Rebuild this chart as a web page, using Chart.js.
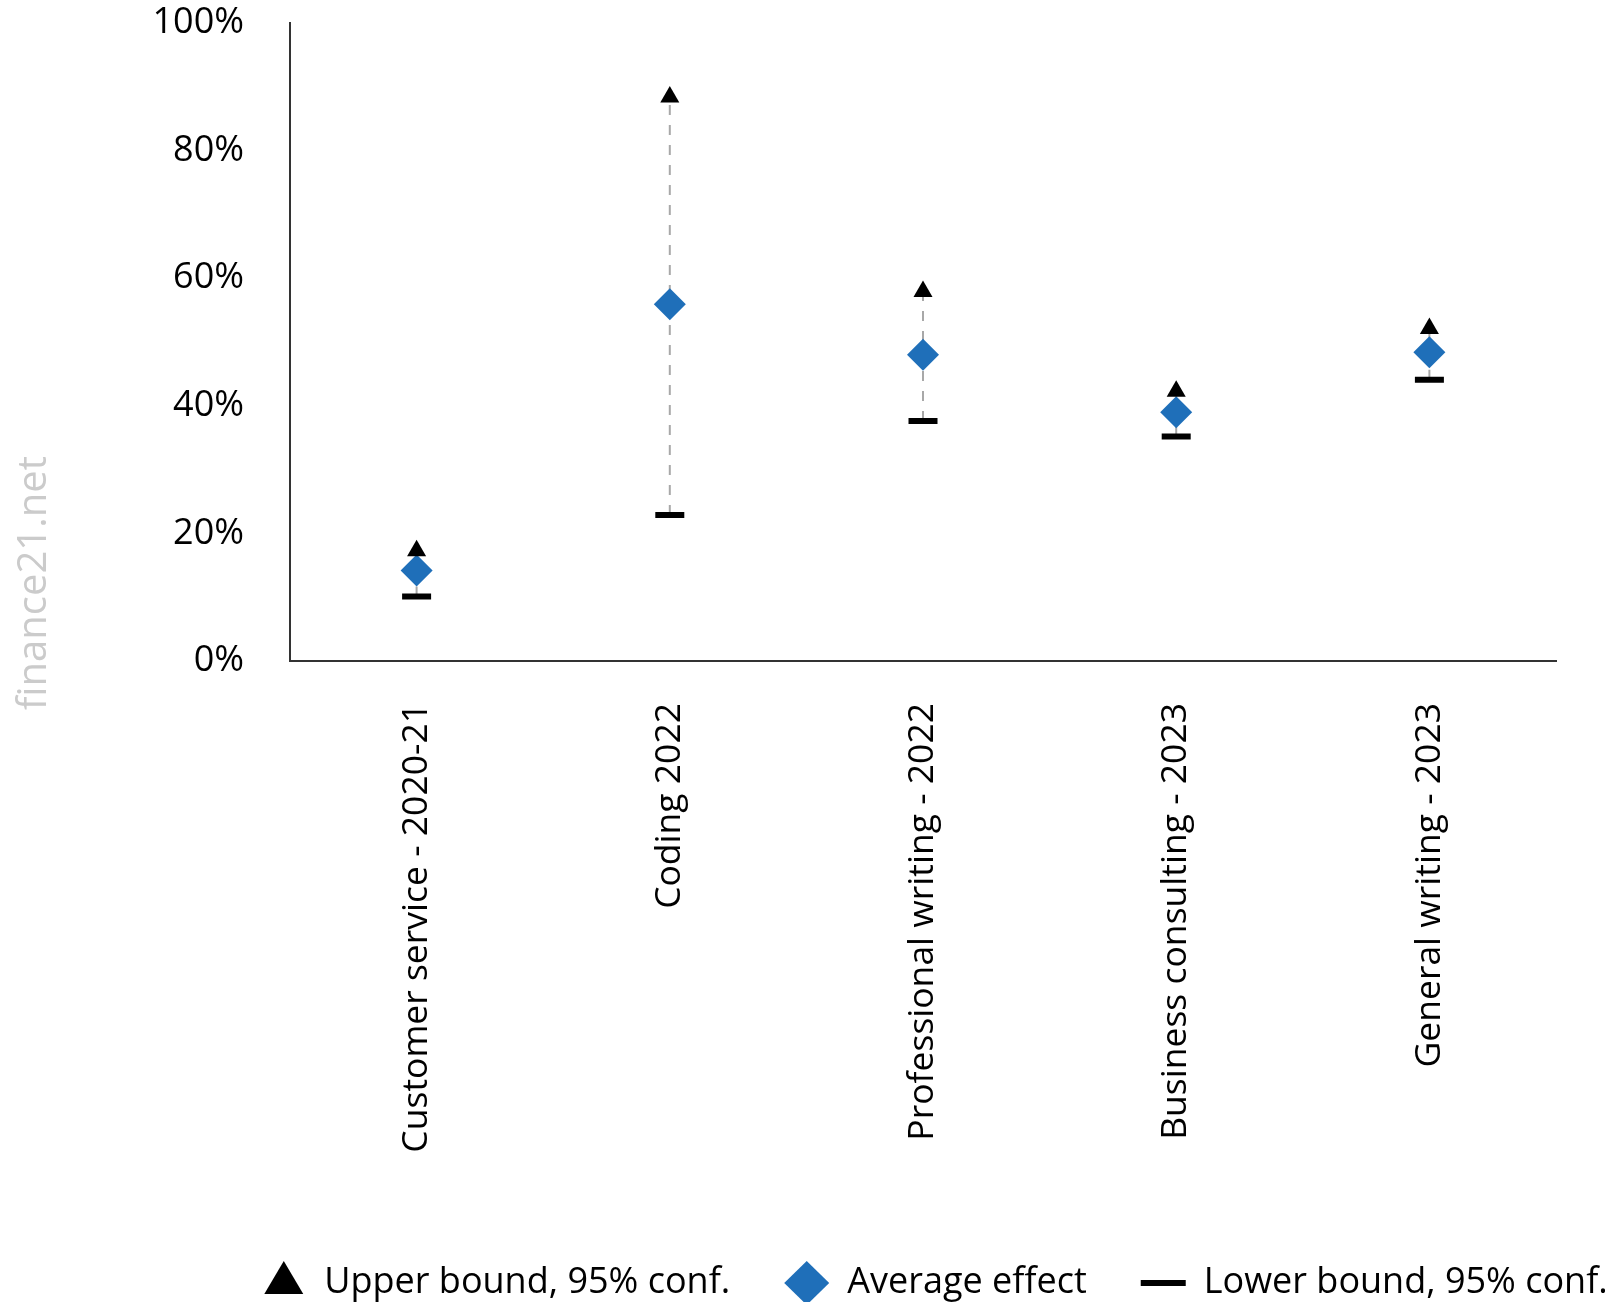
<!DOCTYPE html>
<html>
<head>
<meta charset="utf-8">
<script src="https://cdn.jsdelivr.net/npm/chart.js@4.4.1/dist/chart.umd.min.js"></script>
<style>
  html, body { margin: 0; padding: 0; background: #fff; overflow: hidden; }
  #frame { width: 1605px; height: 1302px; overflow: hidden; position: relative; }
  #wrap { width: 1869px; height: 1311px; position: absolute; left: 0; top: 0; }
</style>
</head>
<body>
<div id="frame">
  <div id="wrap"><canvas id="effectChart"></canvas></div>
</div>
<script>
// values (percent)
const categories = [
    'Customer service - 2020-21',
    'Coding 2022',
    'Professional writing - 2022',
    'Business consulting - 2023',
    'General writing - 2023'
];
const upperBound = [17.3, 88.4, 57.9, 42.3, 52.1];
const averageEffect = [14.2, 55.9, 48.0, 39.0, 48.4];
const lowerBound = [10.1, 22.9, 37.6, 35.2, 44.1];
const yTicks = [0, 20, 40, 60, 80, 100];

const seriesNames = ['Upper bound, 95% conf.', 'Average effect', 'Lower bound, 95% conf.'];

const FONT = "'Open Sans', 'Noto Sans', sans-serif";

// vertical dashed range line: low -> high, then a gap
const rangeLine = [];
categories.forEach((cat, i) => {
    rangeLine.push({ x: cat, y: lowerBound[i] });
    rangeLine.push({ x: cat, y: upperBound[i] });
    rangeLine.push({ x: cat, y: null });
});

// watermark on the left side
const watermark = {
    id: 'watermark',
    afterDraw(chart) {
        const ctx = chart.ctx;
        ctx.save();
        ctx.translate(35, 583);
        ctx.rotate(-Math.PI / 2);
        ctx.font = '40px ' + FONT;
        ctx.fillStyle = '#cbcbcb';
        ctx.textAlign = 'center';
        ctx.textBaseline = 'middle';
        ctx.fillText('finance21.net', 0, 0);
        ctx.restore();
    }
};

const ctx = document.getElementById('effectChart').getContext('2d');
new Chart(ctx, {
    type: 'line',
    data: {
        labels: categories,
        datasets: [
            {
                label: seriesNames[0],
                data: upperBound,
                showLine: false,
                pointStyle: 'triangle',
                pointRadius: 11,
                pointBackgroundColor: '#000',
                pointBorderColor: '#000',
                pointBorderWidth: 0,
                backgroundColor: '#000',
                borderColor: '#000'
            },
            {
                label: seriesNames[1],
                data: averageEffect,
                showLine: false,
                pointStyle: 'rectRot',
                pointRadius: 16,
                pointBackgroundColor: '#1f6fb9',
                pointBorderColor: '#1f6fb9',
                pointBorderWidth: 0,
                backgroundColor: '#1f6fb9',
                borderColor: '#1f6fb9'
            },
            {
                label: seriesNames[2],
                data: lowerBound,
                showLine: false,
                pointStyle: 'line',
                pointRadius: 14.5,
                pointBackgroundColor: '#000',
                pointBorderColor: '#000',
                pointBorderWidth: 6,
                backgroundColor: '#000',
                borderColor: '#000'
            },
            {
                label: 'range',
                data: rangeLine,
                borderColor: '#a8a8a8',
                borderWidth: 2,
                borderDash: [10, 10],
                pointRadius: 0,
                spanGaps: false,
                fill: false
            }
        ]
    },
    options: {
        responsive: true,
        maintainAspectRatio: false,
        animation: false,
        layout: {
            padding: { left: 0, top: 23, right: 0, bottom: 0 }
        },
        plugins: {
            tooltip: { enabled: false },
            legend: {
                position: 'bottom',
                align: 'center',
                labels: {
                    usePointStyle: true,
                    pointStyleWidth: 45,
                    boxHeight: 31,
                    padding: 54,
                    color: '#000',
                    font: { family: FONT, size: 36 },
                    filter: item => item.datasetIndex !== 3
                }
            }
        },
        scales: {
            x: {
                type: 'category',
                offset: true,
                grid: { display: false, drawTicks: false },
                border: { display: true, color: '#333', width: 2 },
                ticks: {
                    autoSkip: false,
                    minRotation: 90,
                    maxRotation: 90,
                    padding: 42,
                    color: '#000',
                    font: { family: FONT, size: 35.5 }
                },
                afterFit: scale => { scale.height = 550; }
            },
            y: {
                min: 0,
                max: 100,
                afterBuildTicks: scale => { scale.ticks = yTicks.map(v => ({ value: v })); },
                grid: { display: false, drawTicks: false },
                border: { display: true, color: '#333', width: 2 },
                ticks: {
                    padding: 46,
                    color: '#000',
                    font: { family: FONT, size: 36 },
                    callback: v => v + '%'
                },
                afterFit: scale => {
                    scale.width = 290;
                    scale.paddingTop = 0;
                    scale.paddingBottom = 0;
                }
            },
            yRight: {
                position: 'right',
                grid: { display: false, drawTicks: false },
                border: { display: false },
                ticks: { display: false },
                afterFit: scale => { scale.width = 1869 - 1556; }
            }
        }
    },
    plugins: [watermark]
});
</script>
</body>
</html>
